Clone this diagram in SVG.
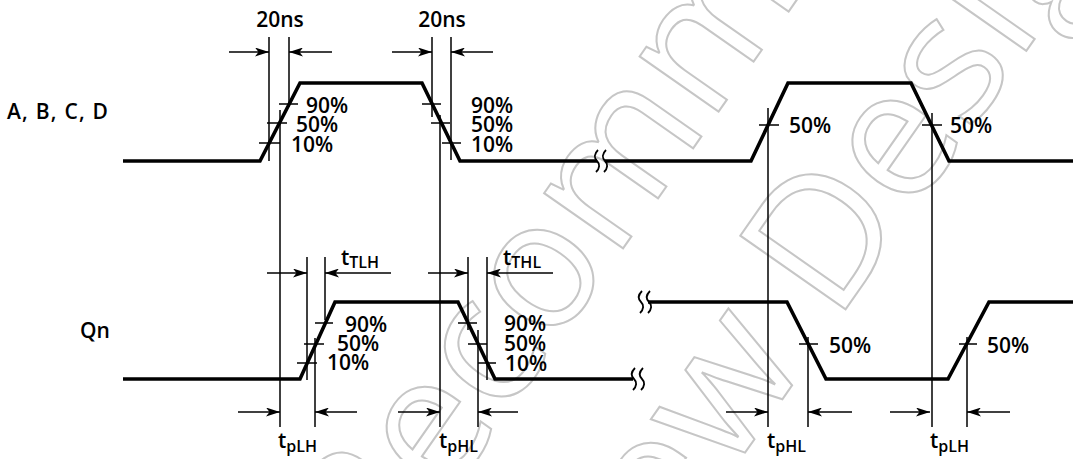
<svg xmlns="http://www.w3.org/2000/svg" width="1073" height="459" viewBox="0 0 1073 459">
<style>
.sig{fill:none;stroke:#000;stroke-width:3.6;stroke-linejoin:miter}
.thin{fill:none;stroke:#000;stroke-width:1.5}
.brk{fill:none;stroke:#000;stroke-width:1.8}
.arr{fill:none;stroke:#000;stroke-width:1.5;marker-end:url(#ah)}
.t{font-family:"Open Sans","Noto Sans","DejaVu Sans",sans-serif;font-size:21px;font-weight:600;fill:#000}
.s{font-size:16px}
.wm{font-family:"Open Sans","Noto Sans",sans-serif;font-size:180px;fill:none;stroke:#c6c6c6;stroke-width:2}
</style>
<defs>
<marker id="ah" markerUnits="userSpaceOnUse" markerWidth="15" markerHeight="9" refX="14" refY="4.5" orient="auto" viewBox="0 0 15 9">
<path d="M0,0 L14,4.5 L0,9 L3.5,4.5 Z" fill="#000"/>
</marker>
</defs>
<g id="watermark">
<text class="wm" transform="translate(381,594) rotate(-55)">Recommended</text>
<text class="wm" transform="translate(593,670) rotate(-55)">New Design</text>
</g>
<g id="signal-abcd">
<polyline class="sig" points="123,161 260,161 300,83 422,83 460,161 597,161"/>
<polyline class="sig" points="605,161 751,161 788,83 911,83 949,161 1073,161"/>
<path class="brk" d="M598,150 C594,154 594,158 597,161 C600,164 600,168 596,172 M606,150 C602,154 602,158 605,161 C608,164 608,168 604,172"/>
</g>
<g id="signal-qn">
<polyline class="sig" points="123,379 300,379 335,302 458,302 495,379 633,379"/>
<polyline class="sig" points="648,302 787,302 826,379 948,379 989,302 1073,302"/>
<path class="brk" d="M635,368 C631,372 631,376 634,379 C637,382 637,386 633,390 M643,368 C639,372 639,376 642,379 C645,382 645,386 641,390"/>
<path class="brk" d="M642,291 C638,295 638,299 641,302 C644,305 644,309 640,313 M650,291 C646,295 646,299 649,302 C652,305 652,309 648,313"/>
</g>
<g id="reference-lines">
<line class="thin" x1="269" y1="37" x2="269" y2="161"/>
<line class="thin" x1="289" y1="37" x2="289" y2="107"/>
<line class="thin" x1="280" y1="110" x2="280" y2="427"/>
<line class="thin" x1="432" y1="37" x2="432" y2="117"/>
<line class="thin" x1="451" y1="37" x2="451" y2="160"/>
<line class="thin" x1="440" y1="115" x2="440" y2="427"/>
<line class="thin" x1="768" y1="108" x2="768" y2="427"/>
<line class="thin" x1="932" y1="113" x2="932" y2="427"/>
<line class="thin" x1="307" y1="257" x2="307" y2="380"/>
<line class="thin" x1="325" y1="257" x2="325" y2="320"/>
<line class="thin" x1="315" y1="338" x2="315" y2="427"/>
<line class="thin" x1="468" y1="257" x2="468" y2="330"/>
<line class="thin" x1="487" y1="257" x2="487" y2="380"/>
<line class="thin" x1="478" y1="330" x2="478" y2="427"/>
<line class="thin" x1="808" y1="337" x2="808" y2="427"/>
<line class="thin" x1="967" y1="337" x2="967" y2="427"/>
</g>
<g id="ticks">
<path class="thin" d="M279,104H298M267,123H287M259,143H280M422,104H441M431,123H450M442,143H461M759,125H779M922,125H942"/>
<path class="thin" d="M315,323H333M304,344H324M297,363H317M458,323H477M468,344H487M478,363H496M799,344H818M959,344H977"/>
</g>
<g id="dimension-arrows">
<line class="arr" x1="229" y1="52" x2="269" y2="52"/>
<line class="arr" x1="332" y1="52" x2="289" y2="52"/>
<line class="arr" x1="392" y1="52" x2="432" y2="52"/>
<line class="arr" x1="493" y1="52" x2="451" y2="52"/>
<line class="arr" x1="267" y1="273" x2="307" y2="273"/>
<line class="arr" x1="391" y1="273" x2="325" y2="273"/>
<line class="arr" x1="428" y1="273" x2="468" y2="273"/>
<line class="arr" x1="553" y1="273" x2="487" y2="273"/>
<line class="arr" x1="238" y1="412" x2="280" y2="412"/>
<line class="arr" x1="357" y1="412" x2="315" y2="412"/>
<line class="arr" x1="398" y1="412" x2="440" y2="412"/>
<line class="arr" x1="518" y1="412" x2="478" y2="412"/>
<line class="arr" x1="726" y1="412" x2="768" y2="412"/>
<line class="arr" x1="852" y1="412" x2="808" y2="412"/>
<line class="arr" x1="890" y1="412" x2="930" y2="412"/>
<line class="arr" x1="1010" y1="412" x2="967" y2="412"/>
</g>
<g id="labels">
<text class="t" x="7" y="119" font-size="20" textLength="101" lengthAdjust="spacing">A, B, C, D</text>
<text class="t" x="80" y="338" font-size="20">Qn</text>
<text class="t" x="280" y="27" text-anchor="middle">20ns</text>
<text class="t" x="442" y="27" text-anchor="middle">20ns</text>
<text class="t" x="306" y="113">90%</text>
<text class="t" x="296" y="132">50%</text>
<text class="t" x="291" y="152">10%</text>
<text class="t" x="471" y="113">90%</text>
<text class="t" x="471" y="132">50%</text>
<text class="t" x="471" y="152">10%</text>
<text class="t" x="789" y="133">50%</text>
<text class="t" x="950" y="133">50%</text>
<text class="t" x="345" y="332">90%</text>
<text class="t" x="337" y="351">50%</text>
<text class="t" x="327" y="370">10%</text>
<text class="t" x="504" y="331">90%</text>
<text class="t" x="504" y="351">50%</text>
<text class="t" x="505" y="371">10%</text>
<text class="t" x="829" y="353">50%</text>
<text class="t" x="987" y="353">50%</text>
<text class="t" x="341" y="265">t<tspan class="s" dy="3">TLH</tspan></text>
<text class="t" x="503" y="265">t<tspan class="s" dy="3">THL</tspan></text>
<text class="t" x="278" y="448">t<tspan class="s" dy="4">pLH</tspan></text>
<text class="t" x="439" y="448">t<tspan class="s" dy="4">pHL</tspan></text>
<text class="t" x="767" y="448">t<tspan class="s" dy="4">pHL</tspan></text>
<text class="t" x="930" y="448">t<tspan class="s" dy="4">pLH</tspan></text>
</g>
</svg>
